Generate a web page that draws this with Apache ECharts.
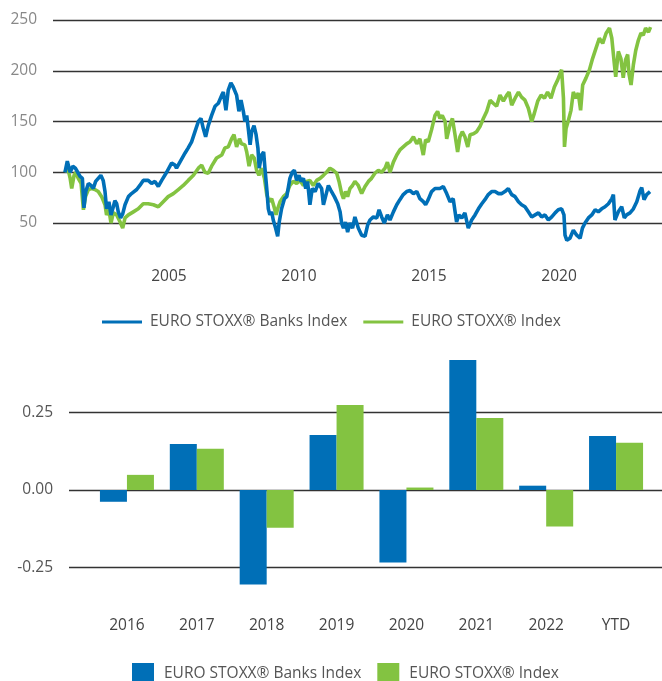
<!DOCTYPE html>
<html>
<head>
<meta charset="utf-8">
<script src="https://cdn.jsdelivr.net/npm/echarts@6/dist/echarts.min.js"></script>
<style>
  html, body { margin: 0; padding: 0; background: #fff; }
  #chart { width: 662px; height: 681px; }
</style>
</head>
<body>
<div id="chart"></div>
<script>
// 指数走势 (2001 = 100), x 为小数年份
var bankYears = [2001.0, 2001.09, 2001.2, 2001.3, 2001.4, 2001.49, 2001.58, 2001.67, 2001.73, 2001.8, 2001.9, 2002.0, 2002.09, 2002.18, 2002.28, 2002.38, 2002.47, 2002.54, 2002.6, 2002.69, 2002.77, 2002.86, 2002.92, 2002.99, 2003.05, 2003.14, 2003.22, 2003.31, 2003.44, 2003.56, 2003.76, 2003.88, 2004.01, 2004.2, 2004.33, 2004.46, 2004.59, 2004.72, 2004.91, 2005.1, 2005.23, 2005.29, 2005.42, 2005.62, 2005.74, 2005.87, 2006.0, 2006.13, 2006.23, 2006.32, 2006.41, 2006.51, 2006.64, 2006.77, 2006.9, 2007.03, 2007.09, 2007.19, 2007.28, 2007.38, 2007.47, 2007.6, 2007.69, 2007.77, 2007.86, 2007.92, 2007.99, 2008.05, 2008.12, 2008.18, 2008.27, 2008.35, 2008.42, 2008.47, 2008.56, 2008.64, 2008.69, 2008.77, 2008.82, 2008.88, 2008.95, 2009.01, 2009.1, 2009.18, 2009.24, 2009.33, 2009.44, 2009.53, 2009.65, 2009.74, 2009.82, 2009.91, 2010.0, 2010.08, 2010.17, 2010.26, 2010.33, 2010.42, 2010.51, 2010.62, 2010.74, 2010.87, 2010.94, 2011.03, 2011.13, 2011.23, 2011.36, 2011.49, 2011.58, 2011.64, 2011.71, 2011.79, 2011.87, 2011.96, 2012.06, 2012.15, 2012.28, 2012.41, 2012.54, 2012.64, 2012.73, 2012.86, 2012.99, 2013.08, 2013.18, 2013.28, 2013.4, 2013.5, 2013.63, 2013.76, 2013.88, 2014.01, 2014.14, 2014.27, 2014.4, 2014.53, 2014.65, 2014.78, 2014.87, 2014.97, 2015.1, 2015.23, 2015.42, 2015.55, 2015.68, 2015.81, 2015.93, 2016.06, 2016.15, 2016.26, 2016.38, 2016.51, 2016.64, 2016.77, 2016.9, 2017.03, 2017.15, 2017.28, 2017.41, 2017.54, 2017.67, 2017.8, 2017.92, 2018.05, 2018.18, 2018.31, 2018.44, 2018.56, 2018.69, 2018.82, 2018.95, 2019.08, 2019.21, 2019.33, 2019.46, 2019.59, 2019.72, 2019.85, 2019.97, 2020.1, 2020.19, 2020.23, 2020.3, 2020.42, 2020.55, 2020.68, 2020.81, 2020.9, 2021.0, 2021.13, 2021.26, 2021.39, 2021.51, 2021.64, 2021.77, 2021.9, 2022.03, 2022.09, 2022.15, 2022.28, 2022.41, 2022.51, 2022.6, 2022.73, 2022.86, 2022.99, 2023.12, 2023.18, 2023.27, 2023.37, 2023.5];
var bankValues = [100, 111, 100, 106, 104, 100, 96, 94, 65, 81, 89, 87, 84, 91, 94, 97, 92, 81, 64, 71, 58, 66, 72, 69, 61, 55, 59, 68, 76, 79, 83, 87, 92, 92, 89, 91, 86, 92, 100, 109, 107, 104, 110, 119, 124, 130, 140, 150, 153, 143, 135, 146, 156, 165, 168, 176, 179, 161, 181, 188, 184, 176, 160, 171, 160, 150, 156, 143, 127, 140, 146, 137, 124, 104, 117, 120, 104, 81, 64, 58, 61, 53, 45, 37, 51, 64, 74, 76, 94, 100, 102, 92, 97, 91, 94, 84, 91, 68, 84, 81, 89, 84, 68, 77, 87, 82, 76, 69, 61, 50, 45, 51, 41, 50, 45, 56, 45, 38, 37, 48, 53, 56, 55, 63, 56, 50, 58, 53, 61, 68, 73, 78, 81, 82, 79, 81, 74, 71, 68, 73, 81, 84, 84, 86, 79, 71, 74, 51, 58, 55, 60, 45, 53, 58, 64, 69, 73, 78, 81, 81, 79, 79, 81, 84, 78, 76, 71, 68, 66, 61, 56, 58, 60, 56, 58, 53, 56, 60, 63, 64, 58, 38, 33, 35, 43, 38, 35, 45, 50, 55, 58, 63, 61, 64, 66, 69, 74, 78, 53, 61, 66, 55, 58, 60, 64, 71, 82, 85, 73, 78, 81];

var stoxxYears = [2001.0, 2001.1, 2001.2, 2001.26, 2001.35, 2001.42, 2001.51, 2001.62, 2001.71, 2001.79, 2001.9, 2002.03, 2002.15, 2002.28, 2002.41, 2002.54, 2002.6, 2002.69, 2002.77, 2002.86, 2002.99, 2003.12, 2003.22, 2003.31, 2003.44, 2003.63, 2003.82, 2004.01, 2004.2, 2004.4, 2004.59, 2004.78, 2004.97, 2005.17, 2005.36, 2005.55, 2005.74, 2005.94, 2006.13, 2006.26, 2006.38, 2006.51, 2006.64, 2006.83, 2007.03, 2007.15, 2007.28, 2007.41, 2007.5, 2007.6, 2007.71, 2007.79, 2007.92, 2007.99, 2008.08, 2008.18, 2008.28, 2008.37, 2008.46, 2008.56, 2008.67, 2008.76, 2008.85, 2008.95, 2009.04, 2009.12, 2009.18, 2009.27, 2009.4, 2009.53, 2009.65, 2009.78, 2009.91, 2010.04, 2010.17, 2010.29, 2010.42, 2010.55, 2010.68, 2010.81, 2010.94, 2011.06, 2011.19, 2011.32, 2011.45, 2011.54, 2011.64, 2011.71, 2011.79, 2011.87, 2011.96, 2012.06, 2012.15, 2012.28, 2012.41, 2012.54, 2012.67, 2012.79, 2012.92, 2013.05, 2013.18, 2013.31, 2013.4, 2013.5, 2013.63, 2013.76, 2013.88, 2014.01, 2014.14, 2014.27, 2014.4, 2014.53, 2014.65, 2014.78, 2014.87, 2014.97, 2015.1, 2015.23, 2015.33, 2015.42, 2015.51, 2015.62, 2015.68, 2015.81, 2015.9, 2016.0, 2016.1, 2016.19, 2016.28, 2016.38, 2016.49, 2016.58, 2016.71, 2016.83, 2016.96, 2017.09, 2017.22, 2017.35, 2017.47, 2017.6, 2017.73, 2017.86, 2017.99, 2018.08, 2018.18, 2018.31, 2018.44, 2018.56, 2018.69, 2018.82, 2018.95, 2019.05, 2019.18, 2019.31, 2019.44, 2019.56, 2019.69, 2019.82, 2019.95, 2020.1, 2020.17, 2020.21, 2020.27, 2020.36, 2020.46, 2020.55, 2020.65, 2020.74, 2020.83, 2020.91, 2021.04, 2021.17, 2021.29, 2021.42, 2021.55, 2021.68, 2021.81, 2021.94, 2022.03, 2022.13, 2022.18, 2022.28, 2022.38, 2022.47, 2022.56, 2022.64, 2022.69, 2022.77, 2022.86, 2022.95, 2023.05, 2023.15, 2023.24, 2023.33, 2023.44, 2023.52];
var stoxxValues = [100, 105, 94, 84, 97, 100, 94, 89, 63, 76, 83, 84, 83, 81, 76, 68, 58, 63, 50, 60, 58, 51, 45, 55, 58, 61, 64, 69, 69, 68, 66, 71, 76, 79, 83, 87, 92, 97, 104, 107, 100, 99, 106, 114, 117, 124, 125, 133, 137, 125, 133, 128, 127, 120, 106, 117, 114, 102, 97, 104, 94, 78, 71, 74, 66, 58, 64, 71, 76, 79, 87, 91, 89, 92, 87, 91, 92, 87, 92, 94, 97, 100, 104, 102, 99, 91, 79, 74, 81, 76, 84, 87, 91, 87, 79, 86, 91, 94, 99, 102, 100, 104, 110, 100, 110, 117, 122, 125, 128, 130, 135, 128, 133, 117, 132, 130, 142, 156, 160, 153, 156, 150, 133, 147, 153, 137, 120, 135, 140, 135, 125, 137, 138, 140, 145, 153, 160, 171, 168, 165, 176, 170, 176, 179, 166, 173, 179, 174, 171, 163, 150, 158, 170, 176, 173, 179, 173, 184, 191, 201, 173, 125, 143, 151, 161, 179, 173, 178, 161, 186, 193, 201, 212, 222, 232, 227, 237, 242, 232, 206, 194, 219, 212, 193, 211, 216, 197, 186, 206, 220, 230, 237, 235, 242, 238, 243];

var lineYTicks = [50, 100, 150, 200, 250];
var lineXTicks = [2005, 2010, 2015, 2020];

// 年度收益
var years = ['2016', '2017', '2018', '2019', '2020', '2021', '2022', 'YTD'];
var bankReturns = [-0.038, 0.149, -0.305, 0.178, -0.234, 0.420, 0.014, 0.175];
var stoxxReturns = [0.049, 0.133, -0.122, 0.275, 0.008, 0.233, -0.118, 0.153];
var barYTicks = [-0.25, 0, 0.25];

var names = ['EURO STOXX® Banks Index', 'EURO STOXX® Index'];
var colors = ['#006FB7', '#83C341'];
var font = 'Open Sans';

function pairs(xs, ys) {
  return xs.map(function (x, i) { return [x, ys[i]]; });
}

var chart = echarts.init(document.getElementById('chart'), null, { renderer: 'canvas' });

var gridLine = { show: true, lineStyle: { color: '#333', width: 1.3 } };

var option = {
  animation: false,
  color: colors,
  textStyle: { fontFamily: font },
  legend: [
    {
      data: names,
      top: 309,
      left: 97,
      icon: 'rect',
      itemWidth: 40,
      itemHeight: 3,
      itemGap: 16,
      textStyle: { fontFamily: font, fontSize: 15.5, color: '#555', padding: [0, 0, 0, 3] }
    },
    {
      data: names,
      top: 658,
      left: 127,
      icon: 'rect',
      itemWidth: 22,
      itemHeight: 22,
      itemGap: 16,
      textStyle: { fontFamily: font, fontSize: 15.5, color: '#555', padding: [0, 0, 0, 5] }
    }
  ],
  grid: [
    { left: 53, right: 0, top: 20, height: 228.4 },      // 走势图
    { left: 69, right: 0, top: 350.8, height: 247.5 },   // 柱状图网格线
    { left: 92, width: 559, top: 350.8, height: 247.5 }  // 柱状图
  ],
  xAxis: [
    {
      gridIndex: 0,
      type: 'value',
      min: 2000.54,
      max: 2023.96,
      axisLine: { show: false },
      axisTick: { show: false },
      splitLine: { show: false },
      axisLabel: {
        customValues: lineXTicks,
        margin: 20,
        fontFamily: font,
        fontSize: 15.5,
        color: '#444',
        formatter: function (v) { return String(Math.round(v)); }
      }
    },
    {
      gridIndex: 1,
      type: 'value',
      show: false
    },
    {
      gridIndex: 2,
      type: 'category',
      data: years,
      axisLine: { show: false },
      axisTick: { show: false },
      axisLabel: { margin: 19, fontFamily: font, fontSize: 15.5, color: '#444' }
    }
  ],
  yAxis: [
    {
      gridIndex: 0,
      type: 'value',
      min: 25,
      max: 250,
      axisLine: { show: false },
      axisTick: { show: false, customValues: lineYTicks },
      splitLine: gridLine,
      axisLabel: { customValues: lineYTicks, margin: 16, fontFamily: font, fontSize: 15.5, color: '#888' }
    },
    {
      gridIndex: 1,
      type: 'value',
      min: -0.35,
      max: 0.45,
      axisLine: { show: false },
      axisTick: { show: false, customValues: barYTicks },
      splitLine: gridLine,
      axisLabel: {
        customValues: barYTicks,
        margin: 16,
        fontFamily: font,
        fontSize: 15.5,
        color: '#555',
        formatter: function (v) { return v.toFixed(2); }
      }
    },
    {
      gridIndex: 2,
      type: 'value',
      min: -0.35,
      max: 0.45,
      show: false
    }
  ],
  series: [
    {
      name: names[0],
      type: 'line',
      xAxisIndex: 0,
      yAxisIndex: 0,
      showSymbol: false,
      data: pairs(bankYears, bankValues),
      lineStyle: { color: colors[0], width: 3.6 },
      itemStyle: { color: colors[0] },
      z: 3
    },
    {
      name: names[1],
      type: 'line',
      xAxisIndex: 0,
      yAxisIndex: 0,
      showSymbol: false,
      data: pairs(stoxxYears, stoxxValues),
      lineStyle: { color: colors[1], width: 3.6 },
      itemStyle: { color: colors[1] },
      z: 2
    },
    {
      name: names[0],
      type: 'bar',
      xAxisIndex: 2,
      yAxisIndex: 2,
      data: bankReturns,
      itemStyle: { color: colors[0] },
      barGap: '0%',
      barCategoryGap: '22.7%'
    },
    {
      name: names[1],
      type: 'bar',
      xAxisIndex: 2,
      yAxisIndex: 2,
      data: stoxxReturns,
      itemStyle: { color: colors[1] },
      barGap: '0%',
      barCategoryGap: '22.7%'
    }
  ]
};

chart.setOption(option);
window.addEventListener('resize', function () {
  chart.resize();
});
</script>
</body>
</html>
